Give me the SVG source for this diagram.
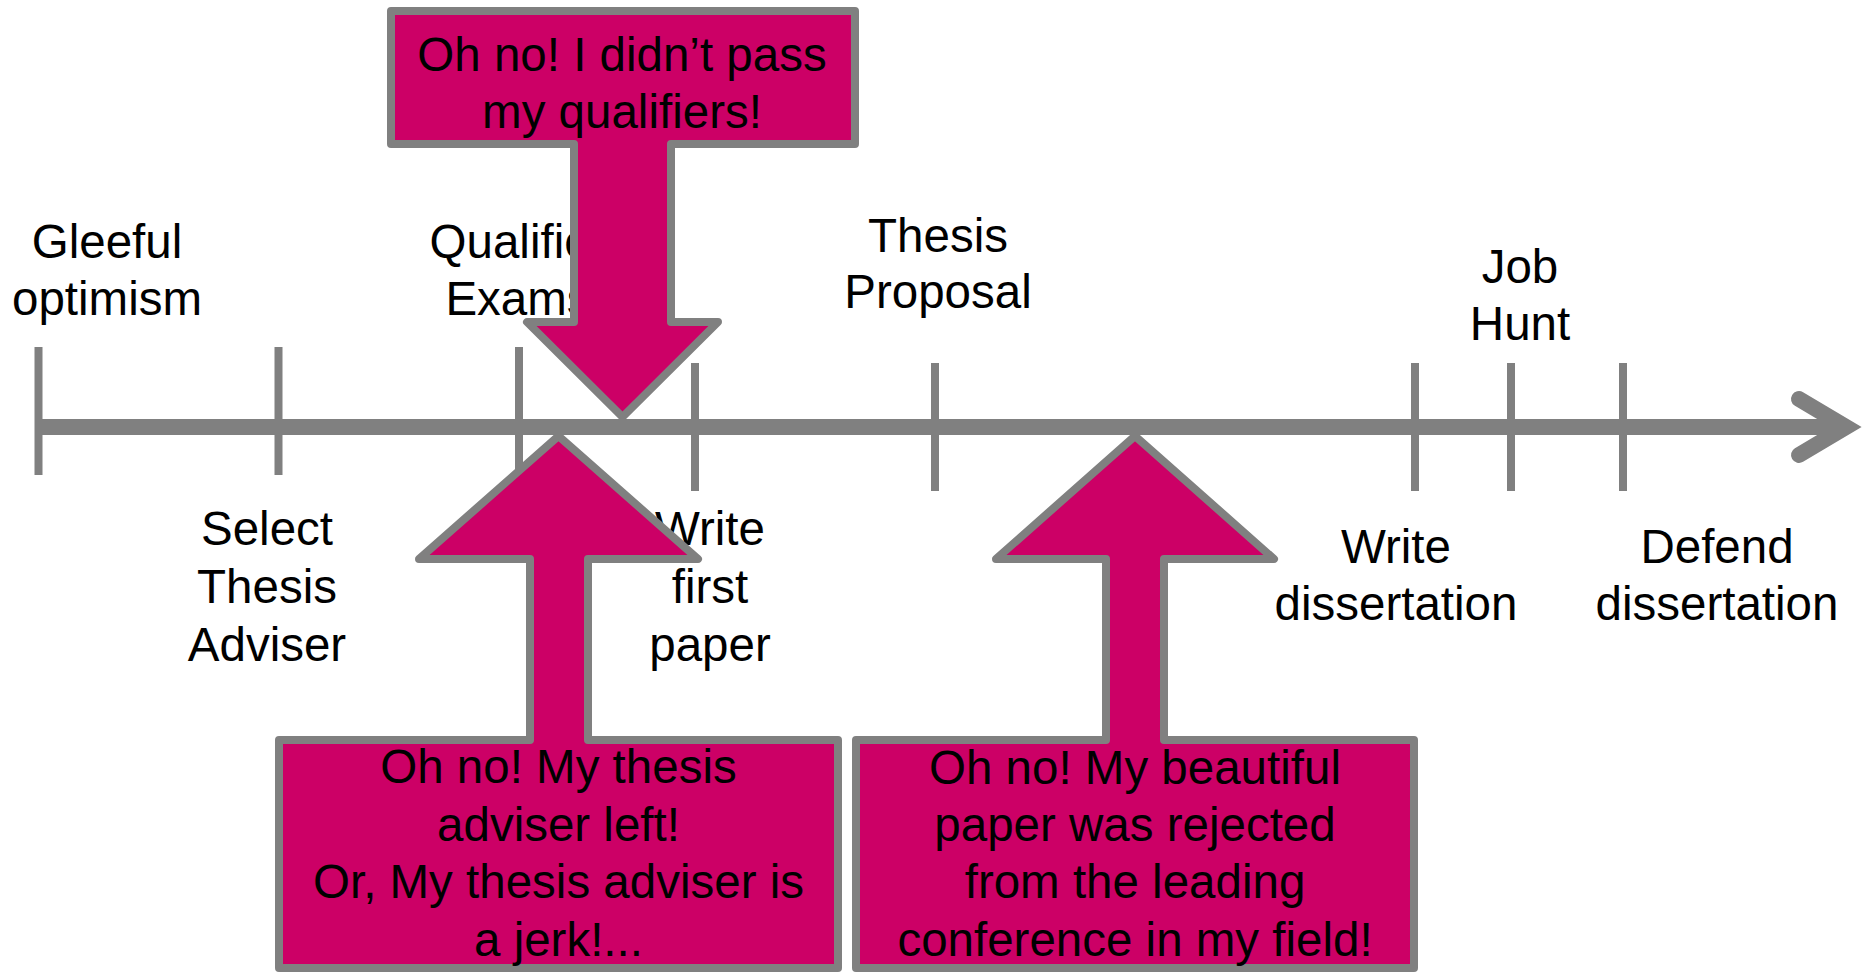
<svg xmlns="http://www.w3.org/2000/svg" width="1874" height="972" viewBox="0 0 1874 972">
<style>
.ax{stroke:#808080;fill:none}
.tk{stroke:#808080;stroke-width:8}
.lbl{font-family:"Liberation Sans",Arial,sans-serif;font-size:47.5px;fill:#000;text-anchor:middle}
.co{fill:#CC0066;stroke:#808080;stroke-width:8;stroke-linejoin:round}
</style>
<rect width="1874" height="972" fill="#fff"/>
<g id="connectors">
<line class="ax" x1="38" y1="427" x2="1846" y2="427" stroke-width="16"/>
<path class="ax" d="M1799,399 L1846,427 L1799,455" stroke-width="16" stroke-linecap="round" stroke-linejoin="miter"/>
<line class="tk" x1="38.5" y1="347" x2="38.5" y2="475"/>
<line class="tk" x1="278.5" y1="347" x2="278.5" y2="475"/>
<line class="tk" x1="519" y1="347" x2="519" y2="475"/>
<line class="tk" x1="695" y1="363" x2="695" y2="491"/>
<line class="tk" x1="935" y1="363" x2="935" y2="491"/>
<line class="tk" x1="1415" y1="363" x2="1415" y2="491"/>
<line class="tk" x1="1511" y1="363" x2="1511" y2="491"/>
<line class="tk" x1="1623" y1="363" x2="1623" y2="491"/>
</g>
<g id="gleeful"><text class="lbl" x="107" y="258">Gleeful</text><text class="lbl" x="107" y="315">optimism</text></g>
<g id="select"><text class="lbl" x="267" y="545">Select</text><text class="lbl" x="267" y="603">Thesis</text><text class="lbl" x="267" y="661">Adviser</text></g>
<g id="qualifier"><text class="lbl" x="518" y="258">Qualifier</text><text class="lbl" x="518" y="315">Exams</text></g>
<g id="firstpaper"><text class="lbl" x="710" y="545">Write</text><text class="lbl" x="710" y="603">first</text><text class="lbl" x="710" y="661">paper</text></g>
<g id="proposal"><text class="lbl" x="938" y="252">Thesis</text><text class="lbl" x="938" y="308">Proposal</text></g>
<g id="writediss"><text class="lbl" x="1396" y="563">Write</text><text class="lbl" x="1396" y="620">dissertation</text></g>
<g id="jobhunt"><text class="lbl" x="1520" y="283">Job</text><text class="lbl" x="1520" y="340">Hunt</text></g>
<g id="defend"><text class="lbl" x="1717" y="563">Defend</text><text class="lbl" x="1717" y="620">dissertation</text></g>
<g id="callout-qualifiers">
<path class="co" d="M391,11 H855 V144 H671 V322 H718 L622.5,417 L527,322 H574 V144 H391 Z"/>
<text class="lbl" x="622" y="71">Oh no! I didn’t pass</text>
<text class="lbl" x="622" y="128">my qualifiers!</text>
</g>
<g id="callout-adviser">
<path class="co" d="M279,740 H530 V559 H419 L558.5,436 L698,559 H588 V740 H838 V968 H279 Z"/>
<text class="lbl" x="558.5" y="783">Oh no! My thesis</text>
<text class="lbl" x="558.5" y="841">adviser left!</text>
<text class="lbl" x="558.5" y="898">Or, My thesis adviser is</text>
<text class="lbl" x="558.5" y="956">a jerk!...</text>
</g>
<g id="callout-rejected">
<path class="co" d="M856,740 H1106 V559 H996 L1135,436 L1274,559 H1164 V740 H1414 V968 H856 Z"/>
<text class="lbl" x="1135" y="784">Oh no! My beautiful</text>
<text class="lbl" x="1135" y="841">paper was rejected</text>
<text class="lbl" x="1135" y="898">from the leading</text>
<text class="lbl" x="1135" y="956">conference in my field!</text>
</g>
</svg>
